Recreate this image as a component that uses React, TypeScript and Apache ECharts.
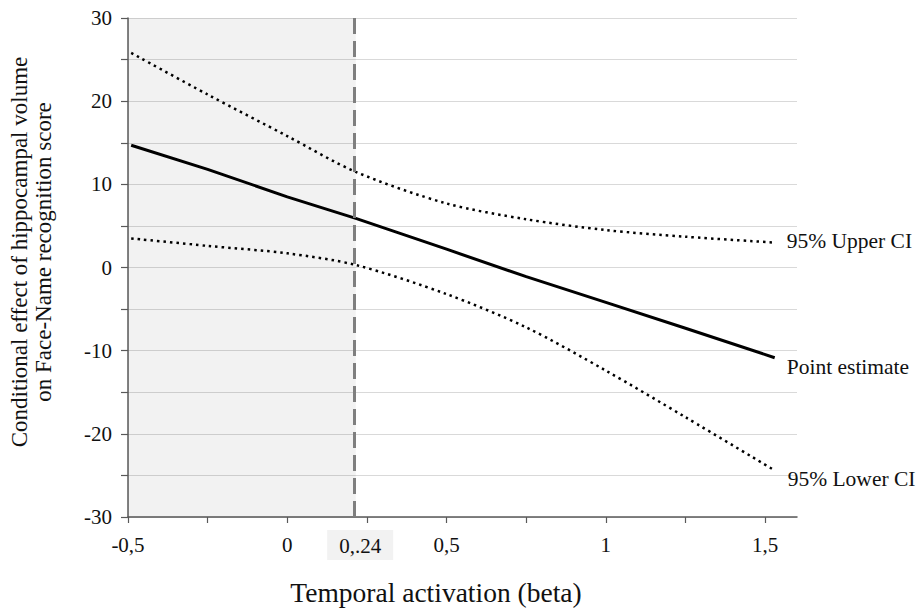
import React, { useEffect, useRef } from "react";
import * as echarts from "echarts";

const xValues = [-0.49, -0.25, 0, 0.215, 0.5, 0.75, 1.0, 1.25, 1.53];
const pointEstimate = [14.7, 11.8, 8.5, 5.9, 2.2, -1.1, -4.2, -7.3, -10.85];
const upperCI = [25.8, 20.8, 15.8, 11.5, 7.7, 5.8, 4.5, 3.7, 3.0];
const lowerCI = [3.5, 2.6, 1.7, 0.3, -3.2, -7.2, -12.4, -18.0, -24.4];

const xTickValues = [-0.5, -0.25, 0, 0.25, 0.5, 0.75, 1, 1.25, 1.5];
const xLabelValues = [-0.5, 0, 0.5, 1, 1.5];
const yTickValues = [-30, -25, -20, -15, -10, -5, 0, 5, 10, 15, 20, 25, 30];

const jnPoint = 0.215;
const jnLabel = "0,.24";

const seriesNames = ["95% Upper CI", "Point estimate", "95% Lower CI"];
const xTitle = "Temporal activation (beta)";
const yTitle = "Conditional effect of hippocampal volume\non Face-Name recognition score";

const FONT = "'Liberation Serif', 'Times New Roman', serif";

function pairs(ys: number[]) {
  return xValues.map((x, i) => [x, ys[i]]);
}

export default function App() {
  const ref = useRef<HTMLDivElement>(null);
  useEffect(() => {
    if (!ref.current) return;
    const chart = echarts.init(ref.current, undefined, { renderer: "svg" });
    const labelStyle = { color: "#111", fontFamily: FONT, fontSize: 21 };
    const endStyle = { color: "#111", fontFamily: FONT, fontSize: 21.5 };
    chart.setOption({
      animation: false,
      backgroundColor: "#fff",
      grid: { left: 128, right: 122, top: 18, bottom: 94 },
      xAxis: {
        type: "value",
        min: -0.5,
        max: 1.6,
        interval: 0.5,
        axisLine: { show: true, onZero: false, lineStyle: { color: "#595959", width: 1.5 } },
        axisTick: { show: true, length: 6, customValues: xTickValues, lineStyle: { color: "#595959", width: 1.2 } },
        axisLabel: {
          ...labelStyle,
          margin: 17,
          customValues: xLabelValues,
          formatter: (v: number) => String(v).replace(".", ","),
        },
        splitLine: { show: false },
      },
      yAxis: {
        type: "value",
        min: -30,
        max: 30,
        interval: 10,
        axisLine: { show: true, onZero: false, lineStyle: { color: "#595959", width: 1.5 } },
        axisTick: { show: true, length: 7, customValues: yTickValues, lineStyle: { color: "#595959", width: 1.2 } },
        axisLabel: { ...labelStyle, margin: 16 },
        splitLine: { show: true, lineStyle: { color: "#d9d9d9", width: 1 } },
      },
      graphic: [
        {
          type: "text",
          x: 31,
          y: 252,
          rotation: Math.PI / 2,
          style: {
            text: yTitle,
            fontFamily: FONT,
            fontSize: 23,
            lineHeight: 24,
            fill: "#111",
            align: "center",
            verticalAlign: "middle",
          },
        },
        {
          type: "text",
          x: 436,
          y: 592,
          style: {
            text: xTitle,
            fontFamily: FONT,
            fontSize: 27.5,
            fill: "#111",
            align: "center",
            verticalAlign: "middle",
          },
        },
      ],
      series: [
        {
          name: seriesNames[0],
          type: "line",
          data: pairs(upperCI),
          showSymbol: false,
          symbol: "none",
          smooth: 0.3,
          lineStyle: { color: "#000", width: 2.5, type: [2.5, 4] },
          endLabel: {
            show: true,
            formatter: seriesNames[0],
            ...endStyle,
            distance: 12,
            offset: [0, -2],
          },
          z: 3,
        },
        {
          name: seriesNames[1],
          type: "line",
          data: pairs(pointEstimate),
          showSymbol: false,
          symbol: "none",
          lineStyle: { color: "#000", width: 3 },
          endLabel: {
            show: true,
            formatter: seriesNames[1],
            ...endStyle,
            distance: 12,
            offset: [0, 9],
          },
          markArea: {
            silent: true,
            itemStyle: { color: "rgba(0,0,0,0.05)" },
            data: [[{ xAxis: -0.5 }, { xAxis: jnPoint }]],
          },
          markLine: {
            silent: true,
            symbol: "none",
            lineStyle: { color: "#7f7f7f", width: 3, type: [16, 7] },
            label: {
              show: true,
              position: "start",
              formatter: jnLabel,
              ...labelStyle,
              backgroundColor: "#f2f2f2",
              padding: [5, 12, 4, 12],
              distance: 13,
              offset: [6, 0],
            },
            data: [{ xAxis: jnPoint }],
          },
          z: 4,
        },
        {
          name: seriesNames[2],
          type: "line",
          data: pairs(lowerCI),
          showSymbol: false,
          symbol: "none",
          smooth: 0.3,
          lineStyle: { color: "#000", width: 2.5, type: [2.5, 4] },
          endLabel: {
            show: true,
            formatter: seriesNames[2],
            ...endStyle,
            distance: 13,
            offset: [0, 9],
          },
          z: 3,
        },
      ],
    });
    return () => chart.dispose();
  }, []);
  return (
    <div
      ref={ref}
      style={{ position: "fixed", left: 0, top: 0, width: 919, height: 611 }}
    />
  );
}
